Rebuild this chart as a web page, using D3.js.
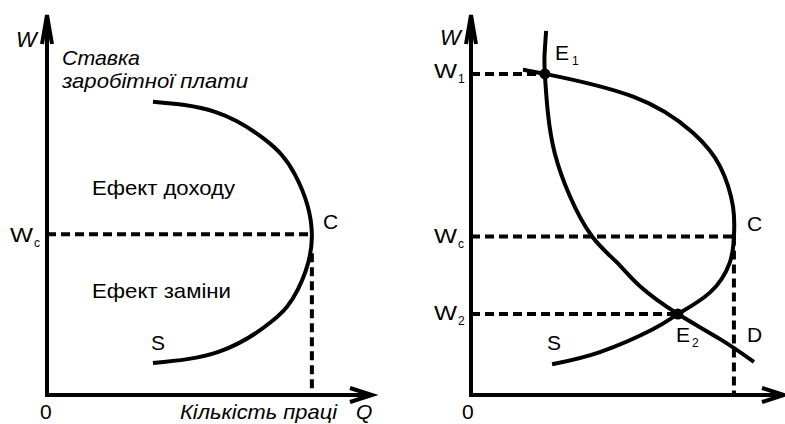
<!DOCTYPE html>
<html>
<head>
<meta charset="utf-8">
<script src="https://cdn.jsdelivr.net/npm/d3@7"></script>
<style>
  body { margin: 0; background: #fff; }
  text { font-family: Arial, "Liberation Sans", sans-serif; fill: #000; }
</style>
</head>
<body>
<div id="chart"></div>
<script>
// left panel: backward-bending labour supply curve (Q, W in % of axis length)
const leftSupply = [[32.6,77.2],[51.7,74.5],[67.1,67.2],[76.3,58.0],[81.5,42.3],
                    [77.2,27.8],[69.2,19.4],[53.2,11.5],[32.6,8.4]];
const leftC = [81.5, 42.3];

// right panel: supply S and demand D
const rightSupply = [[16.6,85.6],[23.6,84.5],[51.8,78.5],[70.9,69.0],[79.6,60.1],[83.7,49.6],
                     [84.0,41.7],[82.7,34.9],[76.4,27.0],[66.1,21.3],[58.1,17.3],[41.2,11.3],[25.9,8.1]];
const rightDemand = [[24.0,95.8],[23.5,89.5],[23.6,84.5],[24.6,74.0],[26.8,63.5],
                     [31.5,52.5],[38.7,41.7],[46.6,34.9],[54.0,28.6],[66.1,21.3],[79.6,14.7],[90.4,8.7]];
const rightE1 = [23.6, 84.5], rightE2 = [66.1, 21.3], rightC = [84.0, 41.7];

const width = 785, height = 424;
const svg = d3.select("#chart").append("svg")
    .attr("width", width).attr("height", height);

function panel(x0, x1) {
  return {
    x: d3.scaleLinear().domain([0, 100]).range([x0, x1]),
    y: d3.scaleLinear().domain([0, 100]).range([395, 15])
  };
}
const L = panel(47, 372), R = panel(471, 784);

const line = (p) => d3.line().x(d => p.x(d[0])).y(d => p.y(d[1])).curve(d3.curveNatural);

function axes(p) {
  const g = svg.append("g").attr("fill", "none").attr("stroke", "#000").attr("stroke-width", 4);
  g.append("path").attr("d", `M${p.x(0)},${p.y(100)}V${p.y(0)}H${p.x(100)}`);
  // arrow heads
  g.append("path").attr("d", `M${p.x(0)-5},${p.y(100)+29}L${p.x(0)},${p.y(100)}L${p.x(0)+5},${p.y(100)+29}`);
  g.append("path").attr("d", `M${p.x(100)-22},${p.y(0)-7}L${p.x(100)},${p.y(0)}L${p.x(100)-22},${p.y(0)+7}`);
}
function dashed(p, pts) {
  svg.append("path")
    .attr("d", d3.line().x(d => p.x(d[0])).y(d => p.y(d[1]))(pts))
    .attr("fill", "none").attr("stroke", "#000").attr("stroke-width", 4)
    .attr("stroke-dasharray", "9,5");
}
function curve(p, data) {
  svg.append("path").datum(data).attr("d", line(p))
    .attr("fill", "none").attr("stroke", "#000").attr("stroke-width", 4);
}
function label(x, y, txt, opt = {}) {
  const t = svg.append("text").attr("x", x).attr("y", y)
    .style("font-size", (opt.size || 21) + "px")
    .style("font-style", opt.italic ? "italic" : "normal");
  if (opt.len) t.attr("textLength", opt.len).attr("lengthAdjust", "spacingAndGlyphs");
  t.text(txt);
  return t;
}
function sub(x, y, main, s) {
  label(x, y, main, { size: 21, len: 23 });
  label(x + 24, y + 5, s, { size: 12 });
}

// ---- left panel
axes(L);
dashed(L, [[0, leftC[1]], leftC]);
dashed(L, [[leftC[0], leftC[1] - 5], [leftC[0], 0]]);
curve(L, leftSupply);

label(16, 47, "W", { italic: true, size: 22 });
label(62, 65, "Ставка", { italic: true, size: 21, len: 78 });
label(62, 88, "заробітної плати", { italic: true, size: 21, len: 186 });
label(92, 195, "Ефект доходу", { size: 21, len: 143 });
label(92, 298, "Ефект заміни", { size: 21, len: 139 });
label(L.x(leftC[0]) + 11, L.y(leftC[1]) - 5, "C", { size: 21 });
sub(10, 242, "W", "c");
label(151, 350, "S", { size: 21 });
label(40, 419, "0", { size: 21 });
label(180, 419, "Кількість праці", { italic: true, size: 21, len: 157 });
label(356, 419, "Q", { italic: true, size: 21 });

// ---- right panel
axes(R);
dashed(R, [[0, rightE1[1]], rightE1]);
dashed(R, [[0, rightC[1]], rightC]);
dashed(R, [rightC, [rightC[0], 0]]);
dashed(R, [[0, rightE2[1]], rightE2]);
curve(R, rightDemand);
curve(R, rightSupply);
svg.selectAll("circle.eq").data([rightE1, rightE2]).join("circle")
  .attr("class", "eq").attr("cx", d => R.x(d[0])).attr("cy", d => R.y(d[1])).attr("r", 5.5)
  .attr("fill", "#000");

label(440, 45, "W", { italic: true, size: 22 });
sub(434, 78, "W", "1");
sub(434, 243, "W", "c");
sub(434, 320, "W", "2");
label(555, 60, "E", { size: 21 });
label(572, 65, "1", { size: 12 });
label(676, 342, "E", { size: 21 });
label(692, 347, "2", { size: 12 });
label(R.x(rightC[0]) + 13, 231, "C", { size: 21 });
label(747, 342, "D", { size: 21 });
label(547, 350, "S", { size: 21 });
label(462, 419, "0", { size: 21 });
</script>
</body>
</html>
